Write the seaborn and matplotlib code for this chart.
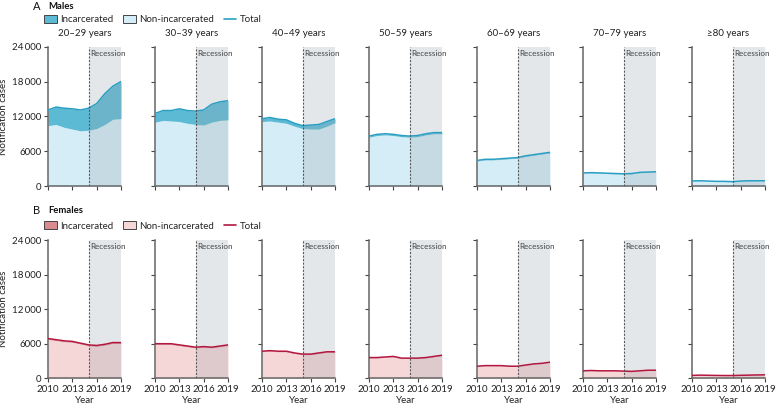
import matplotlib
matplotlib.use("Agg")
import matplotlib.pyplot as plt
import seaborn as sns
import pandas as pd
from matplotlib.patches import Patch
from matplotlib.lines import Line2D

years = [2010, 2011, 2012, 2013, 2014, 2015, 2016, 2017, 2018, 2019]
age_groups = ["20–29 years", "30–39 years", "40–49 years", "50–59 years",
              "60–69 years", "70–79 years", "≥80 years"]
x_ticks = [2010, 2013, 2016, 2019]
y_ticks = [0, 6000, 12000, 18000, 24000]
y_tick_labels = ["0", "6000", "12\u2009000", "18\u2009000", "24\u2009000"]

male_total = [
    [13100, 13600, 13400, 13300, 13100, 13400, 14200, 15900, 17200, 18000],
    [12500, 13000, 13000, 13300, 13000, 12900, 13100, 14100, 14500, 14700],
    [11600, 11800, 11500, 11400, 10800, 10400, 10500, 10600, 11100, 11600],
    [8600, 8900, 9000, 8900, 8700, 8600, 8700, 9000, 9200, 9200],
    [4400, 4600, 4600, 4700, 4800, 4900, 5200, 5400, 5600, 5800],
    [2250, 2300, 2250, 2200, 2150, 2100, 2150, 2350, 2400, 2450],
    [870, 900, 850, 800, 800, 750, 850, 900, 900, 900],
]
male_nonincarcerated = [
    [10400, 10600, 10100, 9800, 9500, 9600, 9900, 10600, 11500, 11600],
    [11000, 11300, 11200, 11100, 10800, 10600, 10500, 11000, 11300, 11400],
    [11100, 11200, 11000, 10800, 10300, 9900, 9800, 9800, 10300, 10900],
    [8400, 8700, 8800, 8700, 8500, 8400, 8500, 8800, 9000, 9000],
    [4300, 4500, 4500, 4600, 4700, 4800, 5100, 5300, 5500, 5700],
    [2200, 2250, 2200, 2150, 2100, 2050, 2100, 2300, 2350, 2400],
    [850, 880, 830, 780, 780, 730, 830, 880, 880, 880],
]
female_total = [
    [6900, 6700, 6500, 6400, 6100, 5800, 5700, 5900, 6200, 6200],
    [6000, 6000, 6000, 5800, 5600, 5400, 5500, 5400, 5600, 5800],
    [4700, 4800, 4700, 4700, 4400, 4200, 4200, 4400, 4600, 4600],
    [3600, 3600, 3700, 3800, 3500, 3500, 3500, 3600, 3800, 4000],
    [2100, 2200, 2200, 2200, 2100, 2100, 2300, 2500, 2600, 2800],
    [1300, 1350, 1300, 1300, 1300, 1250, 1200, 1300, 1400, 1400],
    [500, 550, 520, 500, 480, 480, 520, 550, 580, 600],
]
female_nonincarcerated = [
    [6750, 6550, 6350, 6250, 5950, 5650, 5550, 5750, 6050, 6050],
    [5870, 5870, 5870, 5670, 5470, 5270, 5370, 5270, 5470, 5670],
    [4600, 4700, 4600, 4600, 4300, 4100, 4100, 4300, 4500, 4500],
    [3530, 3530, 3630, 3730, 3430, 3430, 3430, 3530, 3730, 3930],
    [2060, 2160, 2160, 2160, 2060, 2060, 2260, 2460, 2560, 2760],
    [1280, 1330, 1280, 1280, 1280, 1230, 1180, 1280, 1380, 1380],
    [490, 540, 510, 490, 470, 470, 510, 540, 570, 590],
]

sns.set_style("ticks")
plt.rcParams["font.family"] = ["Lato", "DejaVu Sans"]

W, H = 775, 407
fig = plt.figure(figsize=(W / 100, H / 100), dpi=100)

lefts = [48, 155, 262, 369, 477, 583, 692]
ax_w = 73
rows = [
    dict(top=46.7, bottom=186.0, total=male_total, non=male_nonincarcerated,
         dark="#5cbad4", light="#d5edf6", line="#2b9fc3", letter="A", title="Males",
         text_y=6.5, leg_y=19.5),
    dict(top=240.0, bottom=378.3, total=female_total, non=female_nonincarcerated,
         dark="#d98b90", light="#f6d7d7", line="#b3173f", letter="B", title="Females",
         text_y=210, leg_y=226),
]

spine_col = "#666666"
for r, row in enumerate(rows):
    for i, lab in enumerate(age_groups):
        ax = fig.add_axes([lefts[i] / W, 1 - row["bottom"] / H, ax_w / W,
                           (row["bottom"] - row["top"]) / H])
        tot = row["total"][i]
        non = row["non"][i]
        df = pd.DataFrame({"Year": years, "Total": tot})
        ax.fill_between(years, 0, non, color=row["light"], lw=0, zorder=1)
        ax.fill_between(years, non, tot, color=row["dark"], lw=0, zorder=1)
        ax.axvspan(2015, 2019, color="#9aa6ae", alpha=0.26, lw=0, zorder=2)
        sns.lineplot(data=df, x="Year", y="Total", ax=ax, color=row["line"],
                     lw=1.1, zorder=3)
        ax.axvline(2015, color="#555555", ls=(0, (1.8, 1.4)), lw=0.8, zorder=4)
        ax.text(2015.2, 23400, "Recession", fontsize=5.8, va="top", ha="left",
                color="#444444", zorder=5)
        ax.set_xlim(2010, 2019)
        ax.set_ylim(0, 24000)
        ax.set_xticks(x_ticks)
        ax.set_yticks(y_ticks)
        sns.despine(ax=ax)
        for s in ["left", "bottom"]:
            ax.spines[s].set_color(spine_col)
            ax.spines[s].set_linewidth(1.1)
        ax.tick_params(axis="both", length=3, width=0.8, color="#444444",
                       labelsize=7, pad=1.5, labelcolor="#222222")
        if i == 0:
            ax.set_yticklabels(y_tick_labels)
            ax.set_ylabel("Notification cases", fontsize=7, labelpad=3, color="#222222")
        else:
            ax.set_yticklabels([])
            ax.set_ylabel("")
        if r == 1:
            ax.set_xticklabels([str(t) for t in x_ticks])
            ax.set_xlabel("Year", fontsize=7, labelpad=2, color="#222222")
        else:
            ax.set_xticklabels([])
            ax.set_xlabel("")
        if r == 0:
            ax.set_title(lab, fontsize=7, pad=8, color="#222222")

    fig.text(33 / W, 1 - row["text_y"] / H, row["letter"], fontsize=8,
             va="center", ha="left", color="#111111")
    fig.text(48 / W, 1 - row["text_y"] / H, row["title"], fontsize=6.8,
             va="center", ha="left", fontweight="bold", color="#111111")
    handles = [
        Patch(facecolor=row["dark"], edgecolor="#444444", lw=0.7, label="Incarcerated"),
        Patch(facecolor=row["light"], edgecolor="#444444", lw=0.7, label="Non-incarcerated"),
        Line2D([0], [0], color=row["line"], lw=1.2, label="Total"),
    ]
    fig.legend(handles=handles, loc="center left",
               bbox_to_anchor=(44 / W, 1 - row["leg_y"] / H), ncol=3, frameon=False,
               fontsize=7, handlelength=1.3, handleheight=0.9, handletextpad=0.35,
               columnspacing=1.0, borderaxespad=0, borderpad=0)

fig.savefig("out.png", dpi=100)
